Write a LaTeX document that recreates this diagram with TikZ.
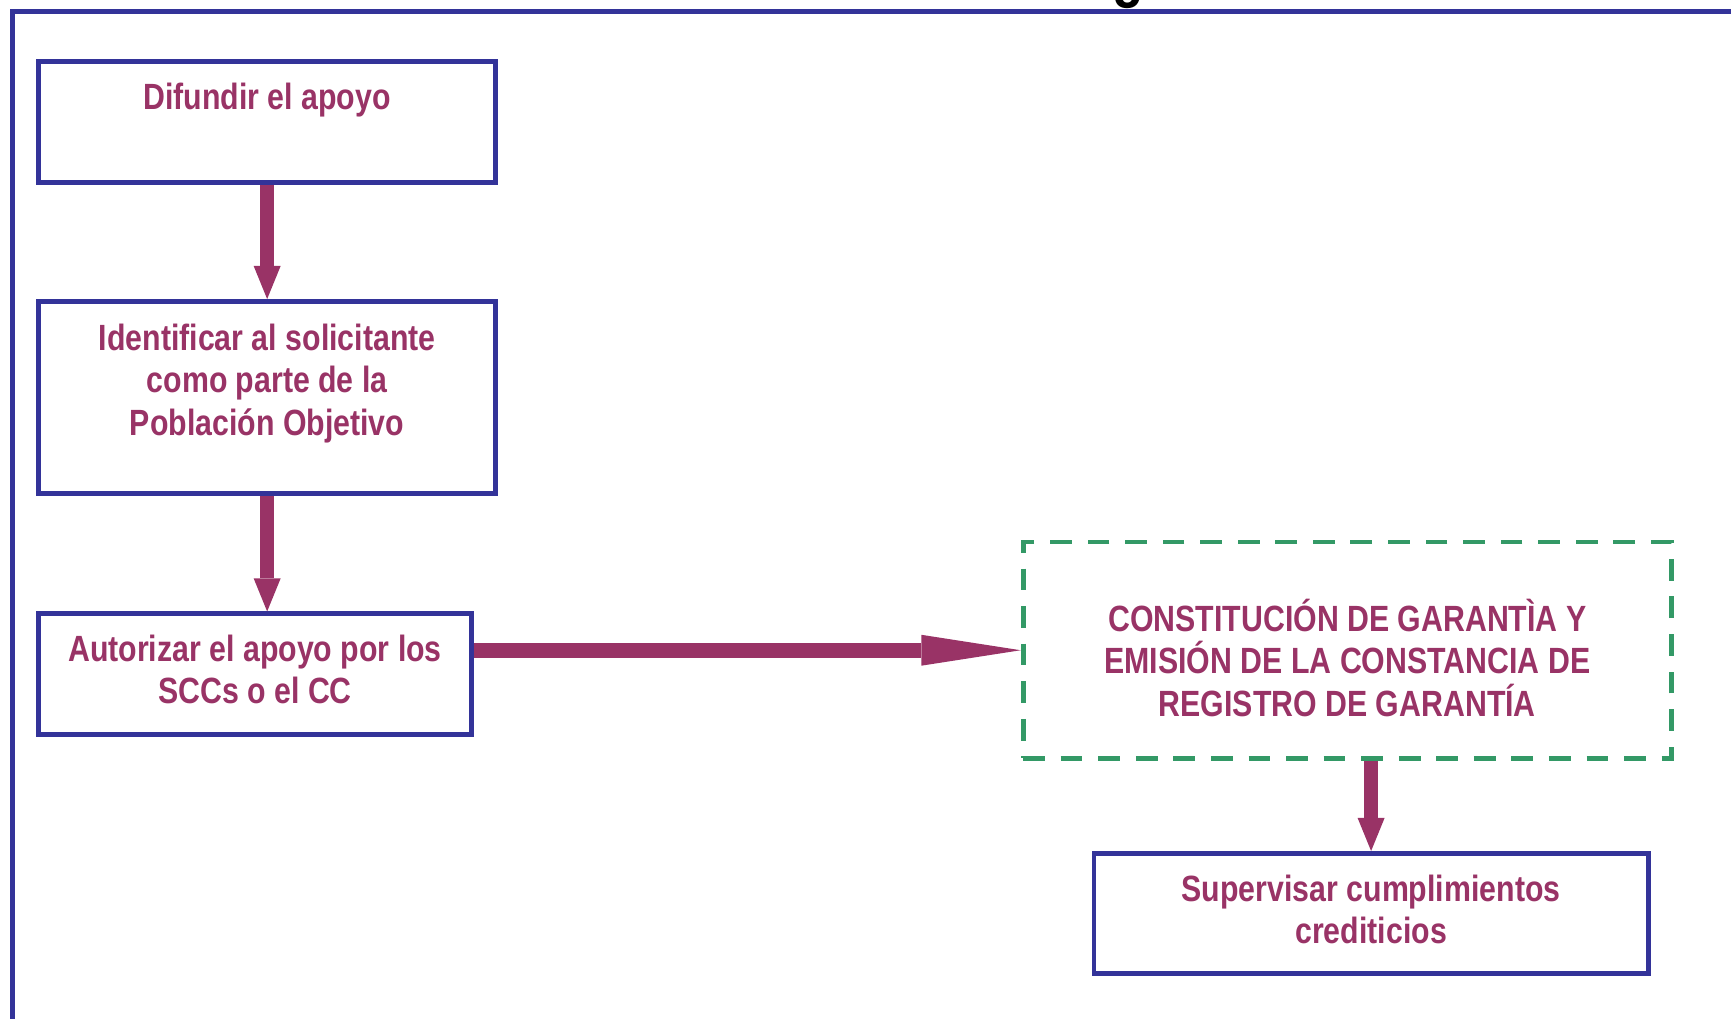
\documentclass[tikz,border=0pt]{standalone}
\usepackage{fontspec}
\setmainfont{Liberation Sans}[FakeStretch=0.83]
\usetikzlibrary{arrows.meta}
\definecolor{boxblue}{RGB}{51,51,153}
\definecolor{maroon}{RGB}{153,51,102}
\definecolor{dgreen}{RGB}{51,153,102}
\begin{document}
\begin{tikzpicture}[x=0.01cm,y=-0.01cm,
  boxnode/.style={draw=boxblue,line width=0.042cm,fill=white,minimum width=#1,inner sep=0pt},
  txt/.style={text=maroon,font=\fontsize{9.4}{10.95}\selectfont\bfseries,align=center,inner sep=0pt},
  flow/.style={draw=maroon,line width=0.127cm,-{Triangle[length=0.3cm,width=0.245cm,line width=0pt]}},
  longflow/.style={draw=maroon,line width=0.14cm,-{Triangle[length=0.9cm,width=0.28cm,line width=0pt]}}]
\useasboundingbox (0,0) rectangle (1568,923);
% outer frame (extends past the page)
\draw[boxblue,line width=0.045cm] (11,1100) -- (11,10.5) -- (1700,10.5);
\node[text=black,font=\fontsize{16}{18}\selectfont\bfseries,anchor=base,inner sep=0pt] (ttl) at (1022,-4) {g};
% boxes
\node[boxnode=4.14cm,minimum height=1.09cm] (b1) at (242,110.5) {};
\node[boxnode=4.14cm,minimum height=1.74cm] (b2) at (242,360) {};
\node[boxnode=3.92cm,minimum height=1.09cm] (b3) at (231,610.5) {};
\node[draw=dgreen,line width=0.045cm,dash pattern=on 0.197cm off 0.143cm,minimum width=5.87cm,minimum height=1.96cm,inner sep=0pt] (gar) at (1220.5,589) {};
\node[boxnode=5.02cm,minimum height=1.09cm] (b4) at (1242,827.5) {};
% texts
\node[txt] (t1) at (242,91) {Difundir el apoyo};
\node[txt] (t2) at (242,347) {Identificar al solicitante\\como parte de la\\Población Objetivo};
\node[txt] (t3) at (231,606.5) {Autorizar el apoyo por los\\SCCs o el CC};
\node[txt] (t4) at (1220.5,596) {CONSTITUCIÓN DE GARANTÌA Y\\EMISIÓN DE LA CONSTANCIA DE\\REGISTRO DE GARANTÍA};
\node[txt] (t5) at (1242,824) {Supervisar cumplimientos\\crediticios};
% connectors
\draw[flow] (b1.south) -- (b2.north);
\draw[flow] (b2.south) -- (b2.south |- b3.north);
\draw[longflow] (gar.west -| b3.east) -- (gar.west);
\draw[flow] (b4.north |- gar.south) -- (b4.north);
\end{tikzpicture}
\end{document}
